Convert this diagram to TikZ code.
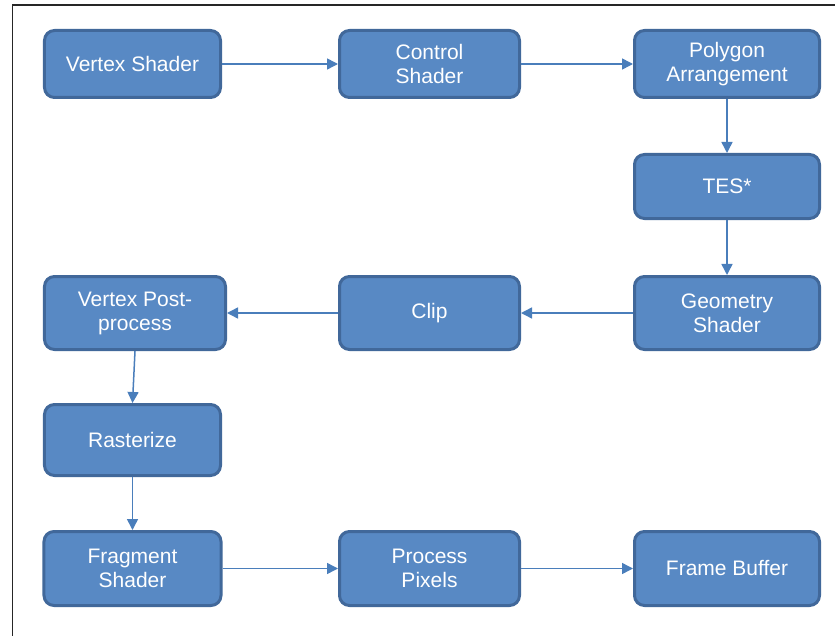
\documentclass[tikz,border=0pt]{standalone}
\usepackage{fontspec}
\setmainfont{Liberation Sans}
\usetikzlibrary{arrows.meta}
\definecolor{boxfill}{HTML}{5889C4}
\definecolor{boxline}{HTML}{41689A}
\definecolor{arrowc}{HTML}{4A7EBB}
\tikzset{
  stage/.style={draw=boxline, fill=boxfill, line width=3bp, rounded corners=10bp,
    text=white, align=center, inner sep=0pt,
    font=\fontsize{21bp}{24bp}\selectfont},
  flow/.style={draw=arrowc, line width=1.5bp, -{Triangle[length=11bp,width=11bp]}}
}
\begin{document}
\begin{tikzpicture}[x=1bp,y=-1bp]
\useasboundingbox (0,0) rectangle (840,636);
\draw[line width=1.5bp, black!85] (12.5,636) -- (12.5,5) -- (835,5);
\node[stage, minimum width=176bp, minimum height=67bp] (vs) at (132.5,64) {Vertex Shader};
\node[stage, minimum width=180bp, minimum height=67bp] (cs) at (429.5,64) {Control\\Shader};
\node[stage, minimum width=185bp, minimum height=67bp] (pa) at (727,64) {Polygon\\Arrangement};
\node[stage, minimum width=185bp, minimum height=64bp] (tes) at (727,186.5) {TES*};
\node[stage, minimum width=185bp, minimum height=73bp] (gs) at (727,313) {Geometry\\Shader};
\node[stage, minimum width=180bp, minimum height=73bp] (clip) at (429.5,313) {Clip};
\node[stage, minimum width=181bp, minimum height=73bp] (vpp) at (135,313) {Vertex Post-\\process};
\node[stage, minimum width=176bp, minimum height=71bp] (ras) at (132.5,440) {Rasterize};
\node[stage, minimum width=177bp, minimum height=74bp] (fs) at (132.5,568.5) {Fragment\\Shader};
\node[stage, minimum width=180bp, minimum height=74bp] (pp) at (429.5,568.5) {Process\\Pixels};
\node[stage, minimum width=185bp, minimum height=74bp] (fb) at (727,568.5) {Frame Buffer};
\draw[flow] (vs) -- (cs);
\draw[flow] (cs) -- (pa);
\draw[flow] (pa) -- (tes);
\draw[flow] (tes) -- (gs);
\draw[flow] (gs) -- (clip);
\draw[flow] (clip) -- (vpp);
\draw[flow] (vpp.south) -- (ras.north);
\draw[flow] (ras) -- (fs);
\draw[flow] (fs) -- (pp);
\draw[flow] (pp) -- (fb);
\end{tikzpicture}
\end{document}
